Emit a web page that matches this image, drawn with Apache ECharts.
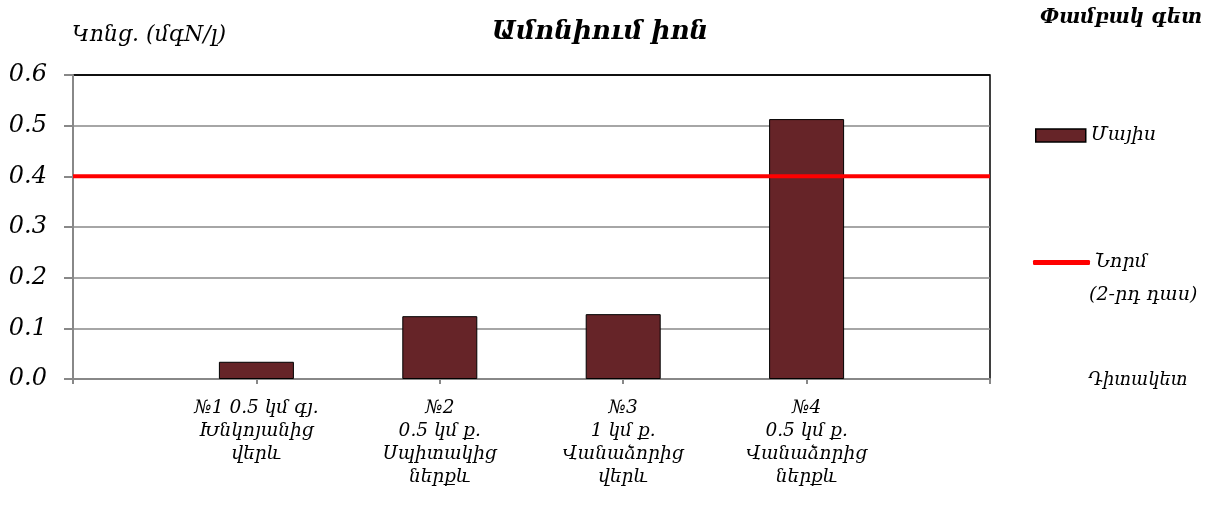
<!DOCTYPE html>
<html>
<head>
<meta charset="utf-8">
<script src="https://cdn.jsdelivr.net/npm/echarts@6/dist/echarts.min.js"></script>
<style>
  html, body { margin: 0; padding: 0; background: #fff; }
  #chart { width: 1215px; height: 510px; }
</style>
</head>
<body>
<div id="chart"></div>
<script>
var categories = ['', '№1 0.5 կմ գյ.\nԽնկոյանից\nվերև', '№2\n0.5 կմ ք.\nՍպիտակից\nներքև',
    '№3\n1 կմ ք.\nՎանաձորից\nվերև', '№4\n0.5 կմ ք.\nՎանաձորից\nներքև', ''];
var mayValues = ['-', 0.034, 0.124, 0.128, 0.513, '-'];
var normValues = [0.4, 0.4, 0.4, 0.4, 0.4, 0.4];

var serif = "'DejaVu Serif', serif";

var option = {
    animation: false,
    title: [
        { text: 'Ամոնիում իոն', left: 595, top: 14, textAlign: 'center',
          textStyle: { fontFamily: serif, fontSize: 26, fontStyle: 'italic', fontWeight: 'bold', color: '#000' } },
        { text: 'Փամբակ գետ', right: 8, top: 3,
          textStyle: { fontFamily: serif, fontSize: 20, fontStyle: 'italic', fontWeight: 'bold', color: '#000' } },
        { text: 'Կոնց. (մգN/լ)', left: 67, top: 19,
          textStyle: { fontFamily: serif, fontSize: 22, fontStyle: 'italic', fontWeight: 'normal', color: '#000' } },
        { text: 'Դիտակետ', left: 1083, top: 366,
          textStyle: { fontFamily: serif, fontSize: 18, fontStyle: 'italic', fontWeight: 'normal', color: '#000' } },
        { text: '(2-րդ դաս)', left: 1084, top: 281,
          textStyle: { fontFamily: serif, fontSize: 19, fontStyle: 'italic', fontWeight: 'normal', color: '#000' } }
    ],
    legend: [
        { data: ['Մայիս'], left: 1030, top: 121, orient: 'vertical',
          icon: 'rect', itemWidth: 50, itemHeight: 13,
          itemStyle: { borderColor: '#000', borderWidth: 1.5 },
          textStyle: { fontFamily: serif, fontSize: 19, fontStyle: 'italic', color: '#000' } },
        { data: ['Նորմ'], left: 1028, top: 248, orient: 'vertical',
          icon: 'roundRect', itemWidth: 57, itemHeight: 5,
          textStyle: { fontFamily: serif, fontSize: 19, fontStyle: 'italic', color: '#000' } }
    ],
    grid: { left: 73, right: 225, top: 75, bottom: 131, show: true,
            borderColor: '#000', borderWidth: 1.5, backgroundColor: 'transparent' },
    xAxis: {
        type: 'category',
        data: categories,
        boundaryGap: false,
        axisLine: { lineStyle: { color: '#888', width: 2 } },
        axisTick: { show: true, length: 5, lineStyle: { color: '#888', width: 2 } },
        axisLabel: { interval: 0, margin: 18, fontFamily: serif, fontSize: 18.5, fontStyle: 'italic',
                     color: '#000', lineHeight: 23, align: 'center' }
    },
    yAxis: {
        type: 'value',
        min: 0, max: 0.6, interval: 0.1,
        axisLine: { show: true, lineStyle: { color: '#888', width: 2 } },
        axisTick: { show: true, length: 9, lineStyle: { color: '#888', width: 2 } },
        axisLabel: { margin: 26, fontFamily: serif, fontSize: 24, fontStyle: 'italic', color: '#000',
                     formatter: function (v) { return v.toFixed(1); } },
        splitLine: { show: true, lineStyle: { color: ['#888', '#888', '#888', '#888', '#888', '#888', '#000'], width: 1.5 } }
    },
    series: [
        { name: 'Մայիս', type: 'bar', data: mayValues, barWidth: 75,
          itemStyle: { color: '#662428', borderColor: '#000', borderWidth: 1 } },
        { name: 'Նորմ', type: 'line', data: normValues, symbol: 'none',
          lineStyle: { color: '#ff0000', width: 4 }, itemStyle: { color: '#ff0000' }, z: 5 }
    ]
};

var myChart = echarts.init(document.getElementById('chart'));
myChart.setOption(option);
</script>
</body>
</html>
